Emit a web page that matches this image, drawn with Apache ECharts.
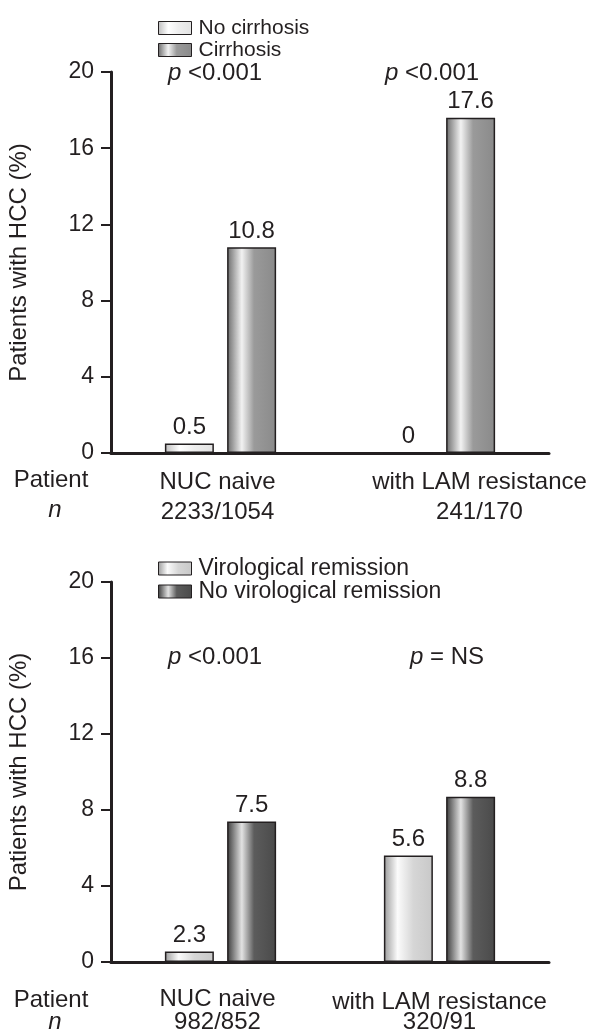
<!DOCTYPE html>
<html>
<head>
<meta charset="utf-8">
<script src="https://cdn.jsdelivr.net/npm/echarts@6/dist/echarts.min.js"></script>
<style>
html,body{margin:0;padding:0;background:#fff;}
#chart{width:595px;height:1030px;}
</style>
</head>
<body>
<div id="chart"></div>
<script>
// ---- data ----
const categories = ['NUC naive', 'with LAM resistance'];
const topN = ['2233/1054', '241/170'];
const bottomN = ['982/852', '320/91'];
const yTicks = [0, 4, 8, 12, 16, 20];

const topSeriesNames = ['No cirrhosis', 'Cirrhosis'];
const noCirrhosis = [0.5, 0];
const cirrhosis = [10.8, 17.6];
const noCirrhosisLabels = ['0.5', '0'];
const cirrhosisLabels = ['10.8', '17.6'];
const topP = ['<0.001', '<0.001'];

const bottomSeriesNames = ['Virological remission', 'No virological remission'];
const remission = [0.55, 5.6];          // bar heights as drawn
const noRemission = [7.4, 8.7];
const remissionLabels = ['2.3', '5.6']; // printed values
const noRemissionLabels = ['7.5', '8.8'];
const bottomP = ['<0.001', '= NS'];

// ---- styling ----
const FONT = 'Liberation Sans, Arial, Helvetica, sans-serif';
const TXT = '#231f20';
const FS = 24;
function grad(stops){
  return new echarts.graphic.LinearGradient(0,0,1,0, stops.map(s=>({offset:s[0],color:s[1]})));
}
const colNoCirr = grad([[0,'#bdbdbd'],[0.3,'#ffffff'],[0.6,'#eeeeee'],[1,'#e2e2e2']]);
const colCirr = grad([[0,'#6a6a6a'],[0.3,'#f2f2f2'],[0.55,'#9a9a9a'],[1,'#8a8a8a']]);
const colRem = grad([[0,'#9a9a9a'],[0.28,'#fbfbfb'],[0.6,'#d6d6d6'],[1,'#c8c8c8']]);
const colNoRem = grad([[0,'#3a3a3a'],[0.3,'#e2e2e2'],[0.55,'#5c5c5c'],[1,'#4a4a4a']]);

const grids = [
  {left:111, right:46, top:72, height:381, containLabel:false, outerBoundsMode:'none'},
  {left:111, right:46, top:582, height:380, containLabel:false, outerBoundsMode:'none'}
];

function xAxis(gi, nArr, cfg){
  return {
    type:'category', gridIndex:gi, data:categories,
    axisLine:{lineStyle:{color:TXT,width:3}},
    axisTick:{show:false},
    axisLabel:{
      interval:0, margin:cfg.margin, color:TXT, fontFamily:FONT, fontSize:FS,
      formatter:(v,i)=> i===0 ? `{a|${v}}\n{b|${nArr[i]}}` : `{c|${v}}\n{d|${nArr[i]}}`,
      rich:{
        a:{fontSize:FS,fontFamily:FONT,color:TXT,lineHeight:cfg.lh,padding:[0,0,0,-6]},
        b:{fontSize:FS,fontFamily:FONT,color:TXT,lineHeight:cfg.lh,padding:[0,0,0,-6]},
        c:{fontSize:FS,fontFamily:FONT,color:TXT,lineHeight:cfg.lh,padding:[cfg.rTop,0,0,cfg.rLeft]},
        d:{fontSize:FS,fontFamily:FONT,color:TXT,lineHeight:cfg.lh,padding:[0,0,0,cfg.rLeft]}
      }
    }
  };
}
function yAxis(gi){
  return {
    type:'value', gridIndex:gi, min:0, max:20, interval:4,
    name:'Patients with HCC (%)', nameLocation:'middle', nameGap:80,
    nameTextStyle:{fontSize:24,fontFamily:FONT,color:TXT},
    axisLine:{show:true,lineStyle:{color:TXT,width:3}},
    axisTick:{show:true,length:10,lineStyle:{color:TXT,width:2}},
    splitLine:{show:false},
    axisLabel:{margin:17,color:TXT,fontFamily:FONT,fontSize:23,
      formatter:v=> yTicks.includes(v) ? String(v) : ''}
  };
}
function bar(name, gi, data, labels, color){
  return {
    name, type:'bar', xAxisIndex:gi, yAxisIndex:gi, data,
    barWidth:49, barGap:'27%',
    itemStyle:{color, borderColor:TXT, borderWidth:1.5},
    label:{show:true, position:'top', distance:4, color:TXT, fontFamily:FONT, fontSize:FS,
      formatter:p=>labels[p.dataIndex]}
  };
}
function legend(names, top, fs){
  return {
    data:names, orient:'vertical', left:153, top, itemWidth:33, itemHeight:13, itemGap:0,
    icon:'rect', itemStyle:{borderColor:TXT,borderWidth:1},
    textStyle:{fontSize:fs,fontFamily:FONT,color:TXT,lineHeight:22,padding:[0,0,0,2]},
    selectedMode:false
  };
}
function pText(x,y,t){
  return {type:'text', x, y, style:{text:`{i|p} ${t}`, fontSize:FS, fontFamily:FONT, fill:TXT,
    verticalAlign:'middle',
    rich:{i:{fontStyle:'italic',fontSize:FS,fontFamily:FONT,fill:TXT}}}};
}
function plain(x,y,t,italic){
  return {type:'text', x, y, style:{text:t, fontSize:FS, fontFamily:FONT, fill:TXT,
    align:'center', verticalAlign:'middle', fontStyle: italic?'italic':'normal'}};
}

const chart = echarts.init(document.getElementById('chart'), null, {renderer:'canvas'});
chart.setOption({
  backgroundColor:'#fff',
  animation:false,
  grid:grids,
  legend:[legend(topSeriesNames,12,21), legend(bottomSeriesNames,552,23)],
  xAxis:[xAxis(0, topN, {margin:14,lh:30,rTop:0,rLeft:80}),
         xAxis(1, bottomN, {margin:26,lh:23,rTop:6,rLeft:0})],
  yAxis:[yAxis(0), yAxis(1)],
  series:[
    bar(topSeriesNames[0],0,noCirrhosis,noCirrhosisLabels,colNoCirr),
    bar(topSeriesNames[1],0,cirrhosis,cirrhosisLabels,colCirr),
    bar(bottomSeriesNames[0],1,remission,remissionLabels,colRem),
    bar(bottomSeriesNames[1],1,noRemission,noRemissionLabels,colNoRem)
  ],
  graphic:[
    pText(168,73,topP[0]), pText(385,73,topP[1]),
    pText(168,657,bottomP[0]), pText(410,657,bottomP[1]),
    plain(51,480,'Patient'), plain(55,510,'n',true),
    plain(51,1000,'Patient'), plain(55,1022,'n',true)
  ]
});
</script>
</body>
</html>
